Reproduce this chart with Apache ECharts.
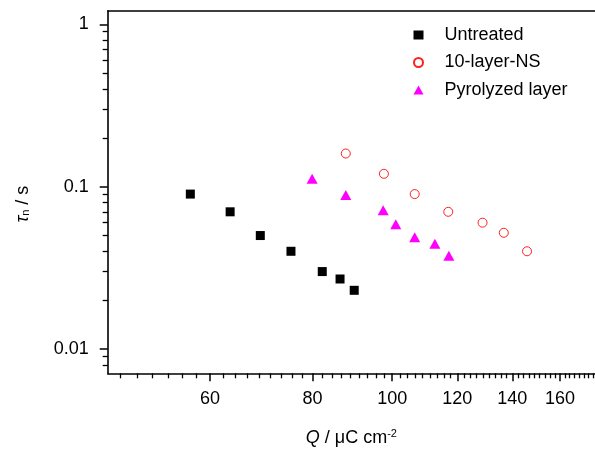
<!DOCTYPE html>
<html>
<head>
<meta charset="utf-8">
<script src="https://cdn.jsdelivr.net/npm/echarts@6/dist/echarts.min.js"></script>
<style>html,body{margin:0;padding:0;background:#fff}#c{width:595px;height:452px}</style>
</head>
<body>
<div id="c"></div>
<script>
// ---- data ----
const seriesNames = ['Untreated', '10-layer-NS', 'Pyrolyzed layer'];
const untreatedQ = [56.8, 63.5, 69.1, 75.3, 82.2, 86.4, 89.9];
const untreatedTau = [0.09, 0.07, 0.05, 0.04, 0.03, 0.027, 0.023];
const nsQ = [87.8, 97.7, 106.5, 117.0, 128.8, 136.7, 145.9];
const nsTau = [0.16, 0.12, 0.09, 0.07, 0.06, 0.052, 0.04];
const pyroQ = [79.9, 87.8, 97.5, 101.0, 106.5, 112.7, 117.2];
const pyroTau = [0.112, 0.089, 0.0715, 0.0586, 0.0488, 0.0445, 0.0376];
const xTicks = [60, 80, 100, 120, 140, 160];
const yTicks = [0.01, 0.1, 1];
const yTickLabels = ['0.01', '0.1', '1'];

const xMin = 45.06, xMax = 176.5;
const yMin = 0.00709, yMax = 1.207;

// minor ticks (Origin style: 8 minor between majors, linear steps)
const xMinor = [];
for (let k = 0; k <= 70; k++) {
  const v = 40 + k * 20 / 9;
  if (v > xMin && v < xMax && Math.abs(v / 20 - Math.round(v / 20)) > 1e-6) xMinor.push(+v.toFixed(4));
}
const yMinor = [];
[0.001, 0.01, 0.1, 1].forEach(d => { for (let m = 2; m <= 9; m++) { const v = +(d * m).toPrecision(6); if (v > yMin && v < yMax) yMinor.push(v); } });

const pair = (xs, ys) => xs.map((x, i) => [x, ys[i]]);
const font = 'Liberation Sans, Arial, sans-serif';
const grid = { left: 107.7, top: 11, right: 0, bottom: 78.7 };

const chart = echarts.init(document.getElementById('c'));
chart.setOption({
  animation: false,
  backgroundColor: '#fff',
  textStyle: { fontFamily: font },
  grid: [Object.assign({}, grid), Object.assign({}, grid)],
  legend: {
    orient: 'vertical', left: 408, top: 21, itemWidth: 10, itemHeight: 9, itemGap: 9.5,
    textStyle: { fontSize: 18, color: '#000', fontFamily: font, lineHeight: 18, padding: [0, 0, 0, 16] },
    data: seriesNames
  },
  xAxis: [
    {
      type: 'log', gridIndex: 0, min: xMin, max: xMax, position: 'bottom',
      name: '{i|Q} / μC cm{sup|-2}', nameLocation: 'middle', nameGap: 55,
      nameTextStyle: { fontSize: 18, color: '#000', fontFamily: font,
        rich: { i: { fontStyle: 'italic', fontSize: 18, fontFamily: font }, sup: { fontSize: 11, verticalAlign: 'top', fontFamily: font, padding: [0, 0, 8, 0] } } },
      axisLine: { show: true, lineStyle: { color: '#000', width: 1.6 } },
      axisTick: { show: true, length: 8, lineStyle: { color: '#000', width: 1.5 }, customValues: xTicks },
      axisLabel: { show: true, margin: 17, fontSize: 18, color: '#000', fontFamily: font, customValues: xTicks, formatter: v => String(Math.round(v)) },
      splitLine: { show: false }, minorTick: { show: false }
    },
    {
      type: 'log', gridIndex: 0, min: xMin, max: xMax, position: 'top',
      axisLine: { show: true, lineStyle: { color: '#000', width: 1.6 } },
      axisTick: { show: false }, axisLabel: { show: false }, splitLine: { show: false }
    },
    {
      type: 'log', gridIndex: 1, min: xMin, max: xMax, position: 'bottom',
      axisLine: { show: false },
      axisTick: { show: true, length: 5, lineStyle: { color: '#000', width: 1.3 }, customValues: xMinor },
      axisLabel: { show: false }, splitLine: { show: false }
    }
  ],
  yAxis: [
    {
      type: 'log', gridIndex: 0, min: yMin, max: yMax, position: 'left',
      name: '{i|τ}{sub|n} / s', nameLocation: 'middle', nameRotate: 90, nameGap: 76,
      nameTextStyle: { fontSize: 18, color: '#000', fontFamily: font, padding: [0, 24, 0, 0],
        rich: { i: { fontStyle: 'italic', fontSize: 18, fontFamily: font }, sub: { fontSize: 11, verticalAlign: 'bottom', fontFamily: font, padding: [6, 0, 0, 0] } } },
      axisLine: { show: true, lineStyle: { color: '#000', width: 1.6 } },
      axisTick: { show: true, length: 8, lineStyle: { color: '#000', width: 1.5 }, customValues: yTicks },
      axisLabel: { show: true, margin: 19, fontSize: 18, color: '#000', fontFamily: font, customValues: yTicks,
        formatter: v => { const i = yTicks.findIndex(t => Math.abs(t - v) / t < 1e-6); return i >= 0 ? yTickLabels[i] : ''; } },
      splitLine: { show: false }
    },
    {
      type: 'log', gridIndex: 1, min: yMin, max: yMax, position: 'left',
      axisLine: { show: false },
      axisTick: { show: true, length: 5, lineStyle: { color: '#000', width: 1.3 }, customValues: yMinor },
      axisLabel: { show: false }, splitLine: { show: false }
    }
  ],
  series: [
    { name: seriesNames[0], type: 'scatter', xAxisIndex: 0, yAxisIndex: 0, symbol: 'rect', symbolSize: 9,
      itemStyle: { color: '#000', opacity: 1 }, data: pair(untreatedQ, untreatedTau) },
    { name: seriesNames[1], type: 'scatter', xAxisIndex: 0, yAxisIndex: 0, symbol: 'circle', symbolSize: 9,
      itemStyle: { color: 'rgba(255,255,255,0)', borderColor: '#ff2020', borderWidth: 1, opacity: 1 }, data: pair(nsQ, nsTau) },
    { name: seriesNames[2], type: 'scatter', xAxisIndex: 0, yAxisIndex: 0, symbol: 'triangle', symbolSize: [11, 10],
      itemStyle: { color: '#ff00ff', opacity: 1 }, data: pair(pyroQ, pyroTau) }
  ]
});
</script>
</body>
</html>
